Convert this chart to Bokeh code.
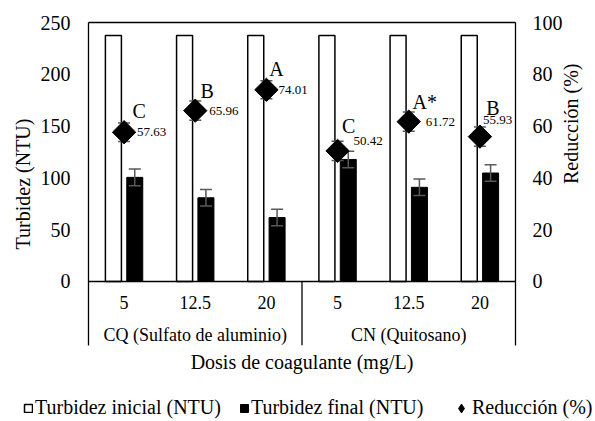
import numpy as np
from bokeh.plotting import figure
from bokeh.models import (ColumnDataSource, Range1d, LinearAxis, FixedTicker, Span,
                          Legend, LegendItem)
from bokeh.core.properties import value
from bokeh.transform import dodge
from bokeh.embed import file_html
from bokeh.resources import INLINE

# ---------------- data ----------------
doses = ["5", "12.5", "20", "5", "12.5", "20"]
groups = ["CQ (Sulfato de aluminio)", "CN (Quitosano)"]
group_index = [0, 0, 0, 1, 1, 1]
turbidez_inicial = [237.5, 237.5, 237.5, 237.5, 237.5, 237.5]
turbidez_final = [100.5, 80.8, 61.7, 117.8, 90.9, 104.7]
error_final = [8.0, 8.0, 8.0, 8.0, 8.0, 8.0]
reduccion = [57.63, 65.96, 74.01, 50.42, 61.72, 55.93]
error_reduccion = [3.6, 3.7, 3.5, 3.7, 3.7, 3.7]
letras = ["C", "B", "A", "C", "A*", "B"]
y_ticks_left = [0, 50, 100, 150, 200, 250]
y_ticks_right = [0, 20, 40, 60, 80, 100]

# ---------------- style ----------------
FONT = "'Liberation Serif', serif"
AX = "#000000"
ERR = "#595959"
letter_dx = [15, 12, 10, 11, 16, 13]
letter_dy = [-21, -20, -21, -25, -20, -29]
val_dx = [13, 14, 12, 16, 17, 3]
val_dy = [0, 0, 0, -10, 0, -17]

n = len(doses)
xc = np.arange(n) + 0.5
off = 0.15
bw = 0.225

Y0 = -61.8
p = figure(width=595, height=376, x_range=Range1d(0, n), y_range=Range1d(Y0, 250),
           output_backend="svg", toolbar_location=None,
           min_border_left=88, min_border_right=80, min_border_top=22, min_border_bottom=31,
           outline_line_color=None, background_fill_color="white", border_fill_color="white")
p.xgrid.visible = False
p.ygrid.visible = False
p.extra_y_ranges = {"red": Range1d(Y0 * 100 / 250, 100)}

xa = p.below[0]
ya = p.left[0]

# left axis
ya.ticker = FixedTicker(ticks=y_ticks_left)
ya.major_tick_out = 0
ya.major_tick_in = 0
ya.minor_tick_out = 0
ya.minor_tick_in = 0
ya.axis_line_color = AX
ya.axis_line_width = 1.3
ya.major_label_standoff = 18
ya.major_label_text_font = FONT
ya.major_label_text_font_size = "20px"
ya.major_label_text_color = "black"
ya.axis_label = "Turbidez (NTU)"
ya.axis_label_text_font = FONT
ya.axis_label_text_font_size = "20px"
ya.axis_label_text_font_style = "normal"
ya.axis_label_text_color = "black"
ya.axis_label_standoff = 4

# right axis
ra = LinearAxis(y_range_name="red", ticker=FixedTicker(ticks=y_ticks_right))
ra.major_tick_out = 0
ra.major_tick_in = 0
ra.minor_tick_out = 0
ra.minor_tick_in = 0
ra.axis_line_color = AX
ra.axis_line_width = 1.3
ra.major_label_standoff = 17
ra.major_label_text_font = FONT
ra.major_label_text_font_size = "20px"
ra.major_label_text_color = "black"
ra.axis_label = "Reducción  (%)"
ra.axis_label_orientation = np.pi / 2
ra.axis_label_text_font = FONT
ra.axis_label_text_font_size = "20px"
ra.axis_label_text_font_style = "normal"
ra.axis_label_text_color = "black"
ra.axis_label_standoff = 5
p.add_layout(ra, "right")

# top border as axis line
ta = LinearAxis(ticker=FixedTicker(ticks=[]))
ta.axis_line_color = AX
ta.axis_line_width = 1.3
ta.major_tick_out = 0
ta.minor_tick_out = 0
ta.major_label_text_font_size = "0px"
p.add_layout(ta, "above")

# bottom axis: title only
xa.ticker = FixedTicker(ticks=[])
xa.axis_line_color = None
xa.major_tick_out = 0
xa.minor_tick_out = 0
xa.major_label_text_font_size = "0px"
xa.axis_label = "Dosis de coagulante (mg/L)"
xa.axis_label_text_font = FONT
xa.axis_label_text_font_size = "20px"
xa.axis_label_text_font_style = "normal"
xa.axis_label_text_color = "black"
xa.axis_label_standoff = 5

# zero line and group separator
p.add_layout(Span(location=0, dimension="width", line_color=AX, line_width=1.3))
n_first = sum(1 for g in group_index if g == 0)
p.segment(x0=[n_first], y0=[Y0], x1=[n_first], y1=[0], line_color=AX, line_width=1.3)

# category labels
src_cat = ColumnDataSource(dict(x=xc, y=np.zeros(n), t=doses))
p.text(x="x", y="y", text="t", source=src_cat, y_offset=21,
       text_font=value(FONT), text_font_size="18px", text_align="center",
       text_baseline="middle", text_color="black")
gx = [float(np.mean([xc[i] for i in range(n) if group_index[i] == g])) for g in range(len(groups))]
src_grp = ColumnDataSource(dict(x=gx, y=[0] * len(groups), t=groups))
p.text(x="x", y="y", text="t", source=src_grp, y_offset=54,
       text_font=value(FONT), text_font_size="18px", text_align="center",
       text_baseline="middle", text_color="black")

# bars
src = ColumnDataSource(dict(
    x=xc, ini=turbidez_inicial, fin=turbidez_final,
    fin_lo=np.array(turbidez_final) - np.array(error_final),
    fin_hi=np.array(turbidez_final) + np.array(error_final),
    red=reduccion,
    red_lo=np.array(reduccion) - np.array(error_reduccion),
    red_hi=np.array(reduccion) + np.array(error_reduccion),
    letra=letras, val=["%.2f" % v for v in reduccion],
    ldx=letter_dx, ldy=letter_dy, vdx=val_dx, vdy=val_dy,
))
INI = dict(fill_color="white", line_color="black", line_width=1.5)
FIN = dict(fill_color="black", line_color="black", line_width=1)
RED = dict(marker="square", angle=np.pi / 4, fill_color="black", line_color="black")

p.vbar(x=dodge("x", -off), top="ini", bottom=0, width=bw, source=src, **INI)
p.vbar(x=dodge("x", off), top="fin", bottom=0, width=bw, source=src, **FIN)

# error bars on final turbidity
p.segment(x0=dodge("x", off), y0="fin_lo", x1=dodge("x", off), y1="fin_hi", source=src,
          line_color=ERR, line_width=1.5)
p.scatter(x=dodge("x", off), y="fin_lo", source=src, marker="dash", size=12,
          line_color=ERR, line_width=1.5)
p.scatter(x=dodge("x", off), y="fin_hi", source=src, marker="dash", size=12,
          line_color=ERR, line_width=1.5)

# error bars on reduction
p.segment(x0="x", y0="red_lo", x1="x", y1="red_hi", source=src, y_range_name="red",
          line_color=ERR, line_width=1.5)
p.scatter(x="x", y="red_lo", source=src, y_range_name="red", marker="dash", size=12,
          line_color=ERR, line_width=1.5)
p.scatter(x="x", y="red_hi", source=src, y_range_name="red", marker="dash", size=12,
          line_color=ERR, line_width=1.5)

# reduction diamonds
p.scatter(x="x", y="red", source=src, y_range_name="red", size=16.5, **RED)

# labels
p.text(x="x", y="red", text="letra", source=src, y_range_name="red",
       x_offset="ldx", y_offset="ldy", text_font=value(FONT), text_font_size="20px",
       text_align="center", text_baseline="middle", text_color="black")
p.text(x="x", y="red", text="val", source=src, y_range_name="red",
       x_offset="vdx", y_offset="vdy", text_font=value(FONT), text_font_size="13px",
       text_align="left", text_baseline="middle", text_color="black")

# ---------------- legend strip (separate root below the chart) ----------------
q = figure(width=595, height=45, x_range=Range1d(0, n), y_range=Range1d(0, 250),
           x_axis_type=None, y_axis_type=None,
           output_backend="svg", toolbar_location=None,
           min_border_left=0, min_border_right=0, min_border_top=0, min_border_bottom=0,
           outline_line_color=None, background_fill_color="white", border_fill_color="white")
q.xgrid.visible = False
q.ygrid.visible = False
l_ini = q.vbar(x="x", top="ini", bottom=0, width=bw, source=src, visible=False, **INI)
l_fin = q.vbar(x="x", top="fin", bottom=0, width=bw, source=src, visible=False, **FIN)
l_red = q.scatter(x="x", y="red", source=src, size=16.5, visible=False, marker="diamond",
                  fill_color="black", line_color="black")

LEG = dict(orientation="horizontal", padding=0, margin=0, border_line_color=None,
           background_fill_alpha=0, inactive_fill_alpha=0, label_text_font=FONT,
           label_text_font_size="20px", label_text_color="black")
legend1 = Legend(items=[
    LegendItem(label="Turbidez inicial (NTU)", renderers=[l_ini]),
    LegendItem(label="Turbidez final (NTU)", renderers=[l_fin]),
], location=(23, 2), glyph_width=10, glyph_height=10, label_standoff=2, spacing=18, **LEG)
legend2 = Legend(items=[
    LegendItem(label="Reducción (%)", renderers=[l_red]),
], location=(450, 2), glyph_width=22, glyph_height=22, label_standoff=-4, **LEG)
q.add_layout(legend1, "center")
q.add_layout(legend2, "center")

open("out.html", "w").write(file_html([p, q], INLINE))
